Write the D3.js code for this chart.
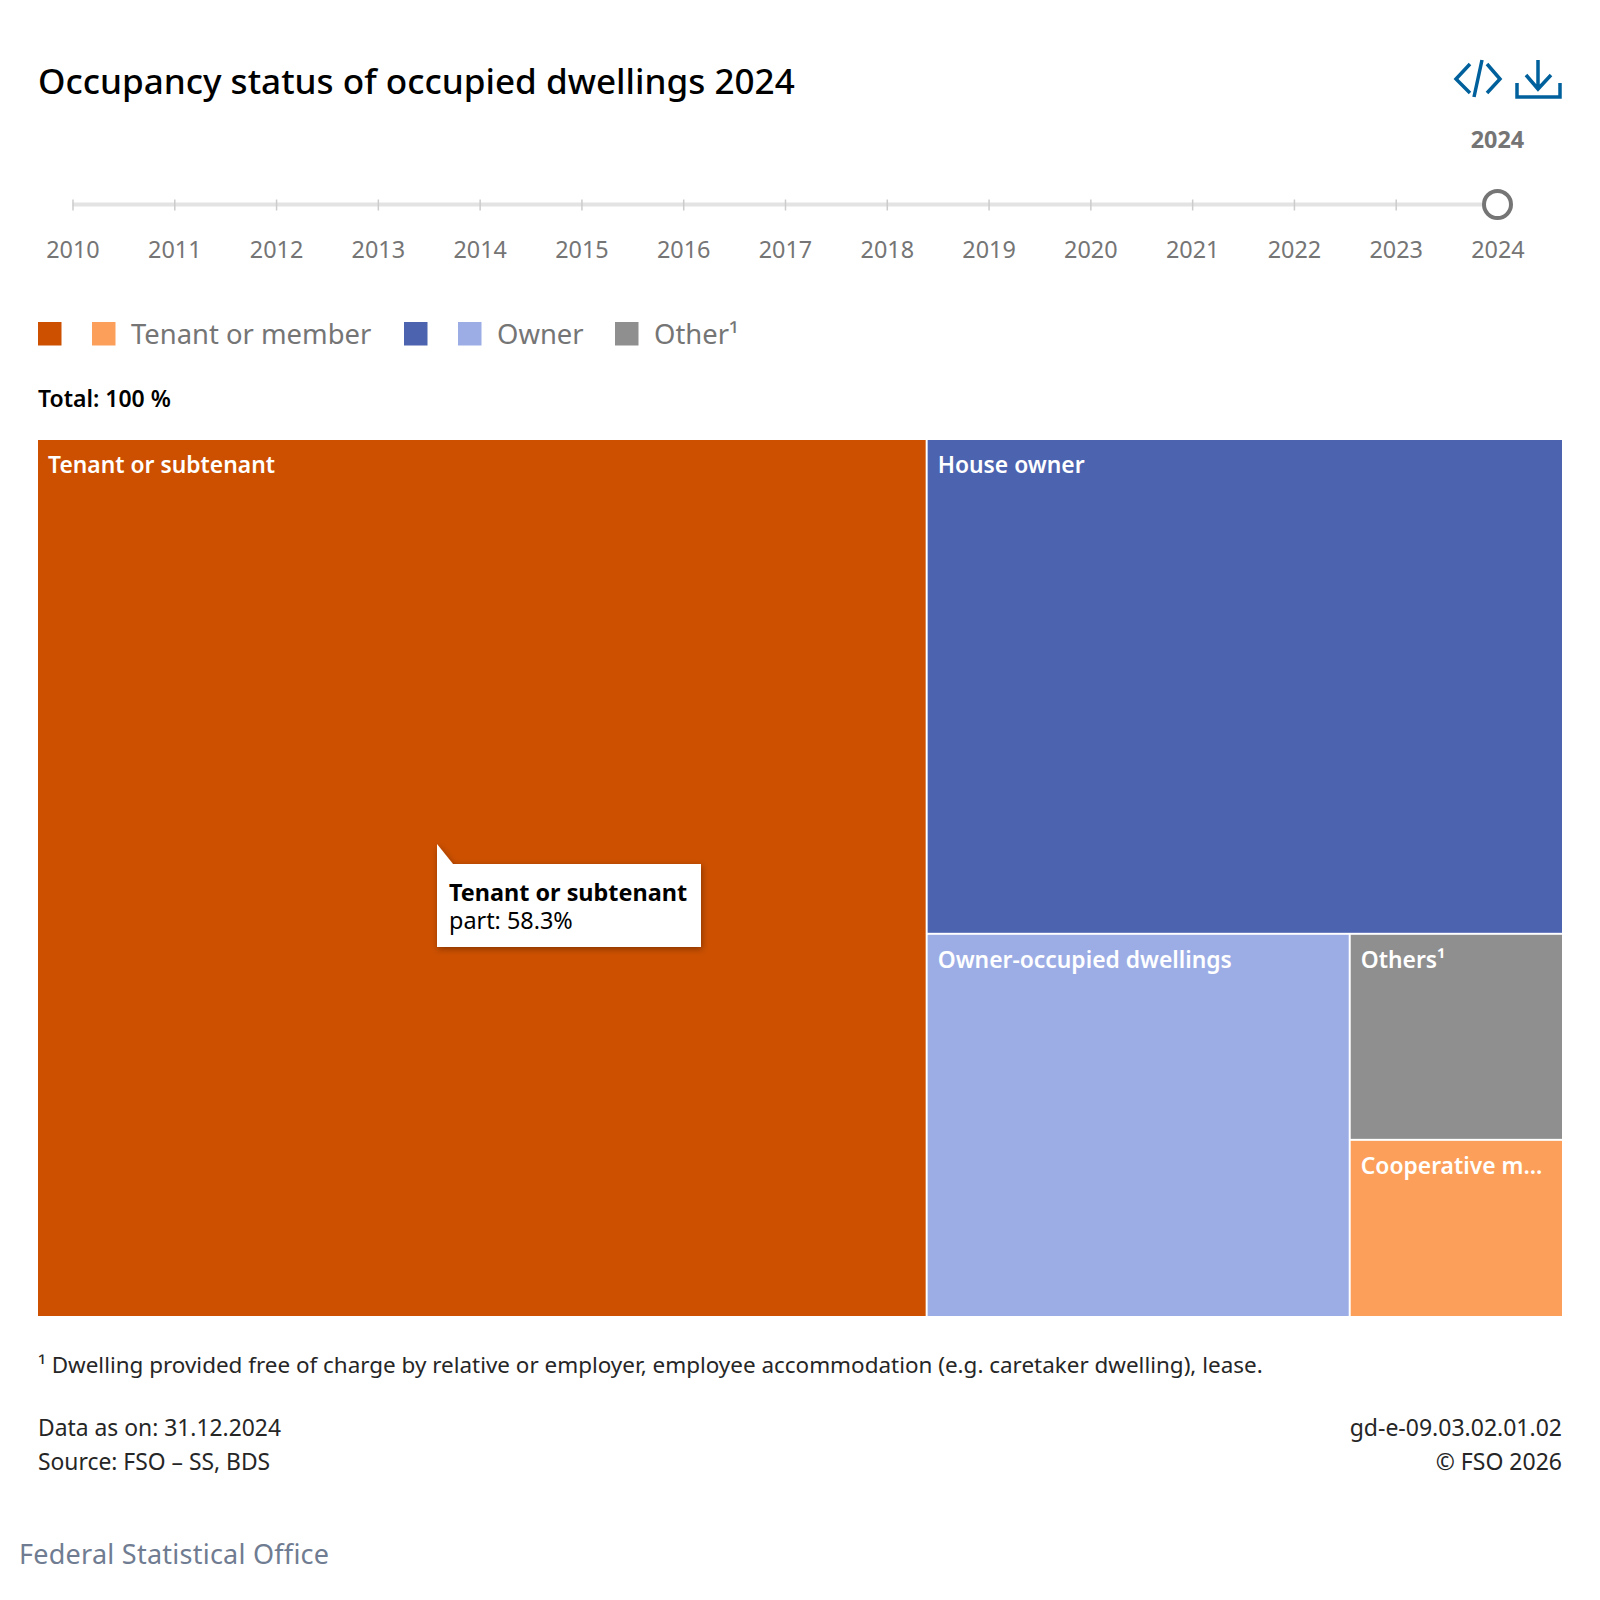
<!DOCTYPE html>
<html>
<head>
<meta charset="utf-8">
<script src="https://cdn.jsdelivr.net/npm/d3@7"></script>
<style>
  body { margin: 0; background: #fff; }
  svg { display: block; }
  text { font-family: "Noto Sans", sans-serif; }
</style>
</head>
<body>
<svg id="chart"></svg>
<script>
// data
const years = [2010, 2011, 2012, 2013, 2014, 2015, 2016, 2017, 2018, 2019, 2020, 2021, 2022, 2023, 2024];
const currentYear = 2024;
const categories = ["Tenant or subtenant", "House owner", "Owner-occupied dwellings", "Others¹", "Cooperative member"];
const shares = [58.3, 23.5, 12.1, 3.28, 2.82];
const colors = ["#cc5000", "#4c63b0", "#9cade6", "#8f8f8f", "#fb9f5b"];
const legendLabels = ["", "Tenant or member", "", "Owner", "Other¹"];
const legendColors = ["#cc5000", "#fb9f5b", "#4c63b0", "#9cade6", "#8f8f8f"];

const width = 1600, height = 1600;
const margin = { left: 38, right: 38 };
const plot = { top: 440, bottom: 1316 };

const svg = d3.select("#chart").attr("width", width).attr("height", height);

const defs = svg.append("defs");
const shadow = defs.append("filter").attr("id", "shadow")
  .attr("x", "-10%").attr("y", "-20%").attr("width", "120%").attr("height", "140%");
shadow.append("feDropShadow").attr("dx", 1).attr("dy", 2).attr("stdDeviation", 3)
  .attr("flood-color", "#000").attr("flood-opacity", 0.35);

// title
svg.append("text").attr("x", margin.left).attr("y", 94)
  .attr("font-size", 35.1).attr("font-weight", 500).attr("fill", "#000")
  .text(`Occupancy status of occupied dwellings ${currentYear}`);

// the two icons top right
const icons = svg.append("g").attr("fill", "none").attr("stroke", "#00609c").attr("stroke-width", 3.5);
icons.append("path").attr("d", "M1470 64L1456 79L1470 93M1482 60L1474 97M1487 64L1500 79L1487 93");
icons.append("path").attr("d", "M1538 60V89M1526 75L1538 89L1551 75M1517 83V97H1560V83");

// year slider
const x = d3.scalePoint().domain(years).range([72.5, 1497.5]);
const slider = svg.append("g").attr("transform", "translate(0,204.5)");
const axis = slider.call(d3.axisBottom(x).tickSize(6).tickPadding(0).tickFormat(d3.format("d")));
axis.select(".domain").attr("stroke", "#e3e3e3").attr("stroke-width", 4).attr("d", `M${x(2010)},0H${x(2024)}`);
axis.selectAll(".tick line").attr("stroke", "#cccccc").attr("stroke-width", 1.5).attr("y1", -5).attr("y2", 6);
axis.selectAll(".tick text")
  .attr("font-family", '"Noto Sans", sans-serif')
  .attr("font-size", 23.4).attr("fill", "#757575").attr("dy", 0).attr("y", 53);
slider.append("circle").attr("cx", x(currentYear)).attr("cy", 0).attr("r", 13.5)
  .attr("fill", "#fff").attr("stroke", "#757575").attr("stroke-width", 4);
slider.append("text").attr("x", x(currentYear)).attr("y", -57).attr("text-anchor", "middle")
  .attr("font-size", 23.4).attr("font-weight", 700).attr("fill", "#757575").text(currentYear);

// legend
const legendX = [38, 92, 404, 458, 615];
const legend = svg.append("g").selectAll("g").data(legendLabels).enter().append("g")
  .attr("transform", (d, i) => `translate(${legendX[i]},322)`);
legend.append("rect").attr("width", 23.5).attr("height", 23.5).attr("fill", (d, i) => legendColors[i]);
legend.append("text").attr("x", 39).attr("y", 22).attr("font-size", 27.4).attr("fill", "#757575").text(d => d);

svg.append("text").attr("x", margin.left).attr("y", 407)
  .attr("font-size", 23).attr("font-weight", 600).attr("fill", "#000").text("Total: 100 %");

// treemap
const root = d3.hierarchy({ children: categories.map((name, i) => ({ name, value: shares[i], color: colors[i] })) })
  .sum(d => d.value)
  .sort((a, b) => b.value - a.value);
d3.treemap().tile(d3.treemapSquarify)
  .size([width - margin.left - margin.right, plot.bottom - plot.top])
  .paddingInner(2)(root);

const cell = svg.append("g").attr("transform", `translate(${margin.left},${plot.top})`)
  .selectAll("g").data(root.leaves()).enter().append("g")
  .attr("transform", d => `translate(${d.x0},${d.y0})`);
cell.append("rect")
  .attr("width", d => d.x1 - d.x0)
  .attr("height", d => d.y1 - d.y0)
  .attr("fill", d => d.data.color);
cell.append("text").attr("x", 10).attr("y", 33)
  .attr("font-size", 22.85).attr("font-weight", 600).attr("fill", "#fff")
  .text(d => d.data.name)
  .each(function (d) {
    // shorten labels that do not fit the cell
    const max = d.x1 - d.x0 - 20;
    const el = d3.select(this);
    let s = d.data.name;
    while (this.getComputedTextLength() > max && s.length > 1) {
      s = s.slice(0, -1);
      el.text(s.trimEnd() + "...");
    }
  });

// tooltip on the largest cell
const tip = svg.append("g").attr("transform", "translate(437,864)");
tip.append("path").attr("d", "M0 -20L16 0H264V83H0Z").attr("fill", "#fff").attr("filter", "url(#shadow)");
tip.append("text").attr("x", 12).attr("y", 37).attr("font-size", 23.4).attr("font-weight", 700).attr("fill", "#000")
  .text(categories[0]);
tip.append("text").attr("x", 12).attr("y", 65).attr("font-size", 23.4).attr("fill", "#000")
  .text(`part: ${shares[0]}%`);

// footer
const foot = svg.append("g").attr("font-size", 22.85).attr("fill", "#262626");
foot.append("text").attr("x", margin.left).attr("y", 1373).attr("font-size", 22.45)
  .text("¹ Dwelling provided free of charge by relative or employer, employee accommodation (e.g. caretaker dwelling), lease.");
foot.append("text").attr("x", margin.left).attr("y", 1436).text("Data as on: 31.12.2024");
foot.append("text").attr("x", margin.left).attr("y", 1470).text("Source: FSO – SS, BDS");
foot.append("text").attr("x", width - margin.right).attr("y", 1436).attr("font-size", 23).attr("text-anchor", "end").text("gd-e-09.03.02.01.02");
foot.append("text").attr("x", width - margin.right).attr("y", 1470).attr("font-size", 23).attr("text-anchor", "end").text("© FSO 2026");

svg.append("text").attr("x", 19).attr("y", 1564).attr("font-size", 27).attr("letter-spacing", 0.25).attr("fill", "#6f7c91")
  .text("Federal Statistical Office");
</script>
</body>
</html>
